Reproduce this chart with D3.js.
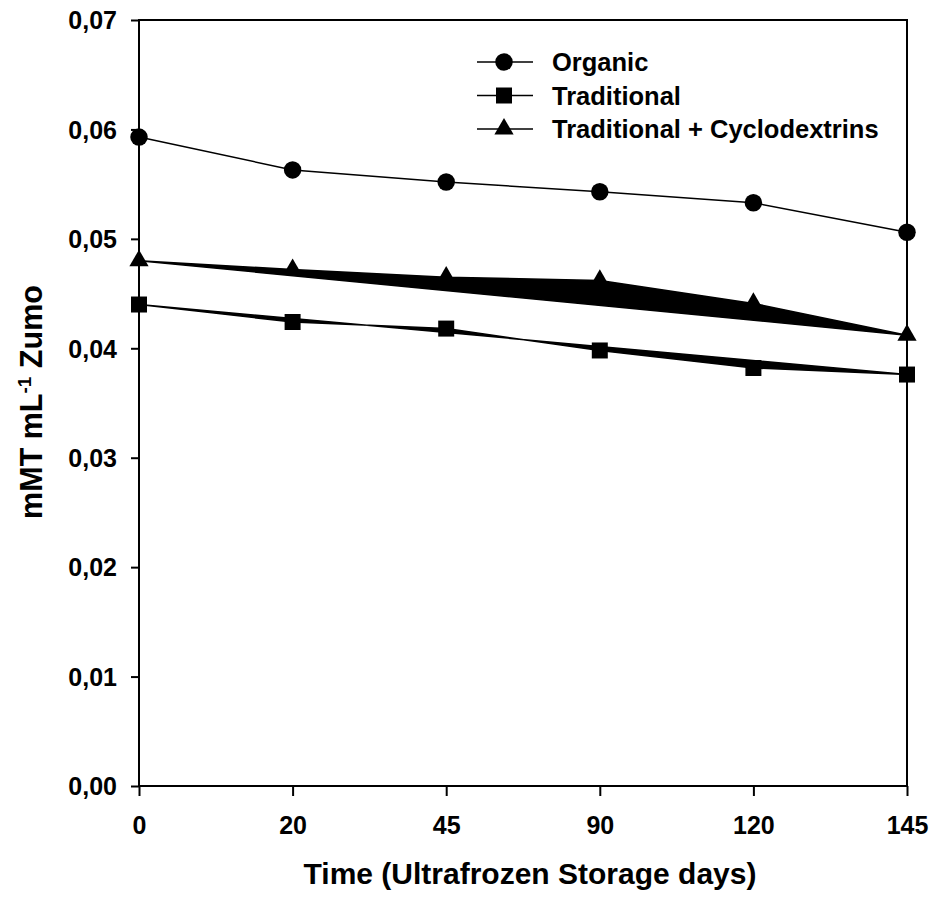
<!DOCTYPE html>
<html>
<head>
<meta charset="UTF-8">
<title>mMT mL-1 Zumo</title>
<style>
  body { margin: 0; background: #fff; }
  svg { display: block; }
  text { font-family: "Liberation Sans", Arial, sans-serif; font-weight: bold; fill: #000; }
</style>
</head>
<body>
<svg></svg>
<script src="https://d3js.org/d3.v7.min.js"></script>
<script>

let width = 936, height = 902;

// data
let days = ["0", "20", "45", "90", "120", "145"];
let organic = [0.0593, 0.0563, 0.0552, 0.0543, 0.0533, 0.0506];
let traditional = [0.0440, 0.0424, 0.0418, 0.0398, 0.0382, 0.0376];
let cyclodextrins = [0.0480, 0.0472, 0.0465, 0.0462, 0.0441, 0.0412];
let yTicks = [0, 0.01, 0.02, 0.03, 0.04, 0.05, 0.06, 0.07];

let series = [
  {name: "Organic", values: organic, symbol: d3.symbolCircle, size: 240, closed: false},
  {name: "Traditional", values: traditional, symbol: d3.symbolSquare, size: 256, closed: true},
  {name: "Traditional + Cyclodextrins", values: cyclodextrins, symbol: d3.symbolTriangle, size: 160, closed: true}
];

let svg = d3.select("svg")
    .attr("width", width)
    .attr("height", height);

let plotLeft = 139, plotRight = 907, plotTop = 20, plotBottom = 786;

let x = d3.scalePoint().domain(days).range([plotLeft, plotRight]);
let y = d3.scaleLinear().domain([0, 0.07]).range([plotBottom, plotTop]);

let comma = d3.formatLocale({decimal: ",", thousands: ".", grouping: [3], currency: ["", ""]}).format(".2f");

// frame
svg.append("rect")
    .attr("x", plotLeft).attr("y", plotTop)
    .attr("width", plotRight - plotLeft).attr("height", plotBottom - plotTop)
    .attr("fill", "none").attr("stroke", "#000").attr("stroke-width", 2);

// y axis
let yAxis = svg.append("g")
    .attr("transform", `translate(${plotLeft},0)`)
    .call(d3.axisLeft(y).tickValues(yTicks).tickSize(8).tickPadding(14).tickFormat(comma));
yAxis.select(".domain").remove();
yAxis.selectAll("line").attr("stroke-width", 2);
yAxis.selectAll("text").style("font-size", "25px").attr("dy", "0.35em");

// x axis
let xAxis = svg.append("g")
    .attr("transform", `translate(0,${plotBottom})`)
    .call(d3.axisBottom(x).tickSize(10).tickPadding(20));
xAxis.select(".domain").remove();
xAxis.selectAll("line").attr("stroke-width", 2);
xAxis.selectAll("text").style("font-size", "25px").attr("dy", "0.71em");

// axis titles
svg.append("text")
    .attr("x", 530)
    .attr("y", 884)
    .attr("text-anchor", "middle")
    .style("font-size", "30px")
    .text("Time (Ultrafrozen Storage days)");

let yt = svg.append("text")
    .attr("transform", "translate(42,402) rotate(-90)")
    .attr("text-anchor", "middle")
    .style("font-size", "30.5px");
yt.append("tspan").text("mMT mL");
yt.append("tspan").attr("dy", "-11").style("font-size", "19px").text("-1");
yt.append("tspan").attr("dy", "11").text(" Zumo");

// lines
let line = d3.line()
    .x((d, i) => x(days[i]))
    .y(d => y(d));

series.forEach(s => {
  svg.append("path")
      .attr("d", line(s.values) + (s.closed ? "Z" : ""))
      .attr("fill", s.closed ? "#000" : "none")
      .attr("stroke", "#000")
      .attr("stroke-width", 1.5)
      .attr("stroke-linejoin", "round");

  svg.append("g")
    .selectAll("path")
    .data(s.values)
    .enter()
    .append("path")
    .attr("d", d3.symbol().type(s.symbol).size(s.size))
    .attr("transform", (d, i) => `translate(${x(days[i])},${y(d)})`)
    .attr("fill", "#000");
});

// legend
let legend = svg.append("g").attr("transform", "translate(477,62)");
series.forEach((s, i) => {
  let g = legend.append("g").attr("transform", `translate(0,${i * 33.5})`);
  g.append("line")
      .attr("x1", 0).attr("x2", 56)
      .attr("stroke", "#000").attr("stroke-width", 1.5);
  g.append("path")
      .attr("d", d3.symbol().type(s.symbol).size(s.size))
      .attr("transform", "translate(27,0)");
  g.append("text")
      .attr("x", 75)
      .attr("dy", "0.36em")
      .style("font-size", "25.5px")
      .text(s.name);
});

</script>
</body>
</html>
